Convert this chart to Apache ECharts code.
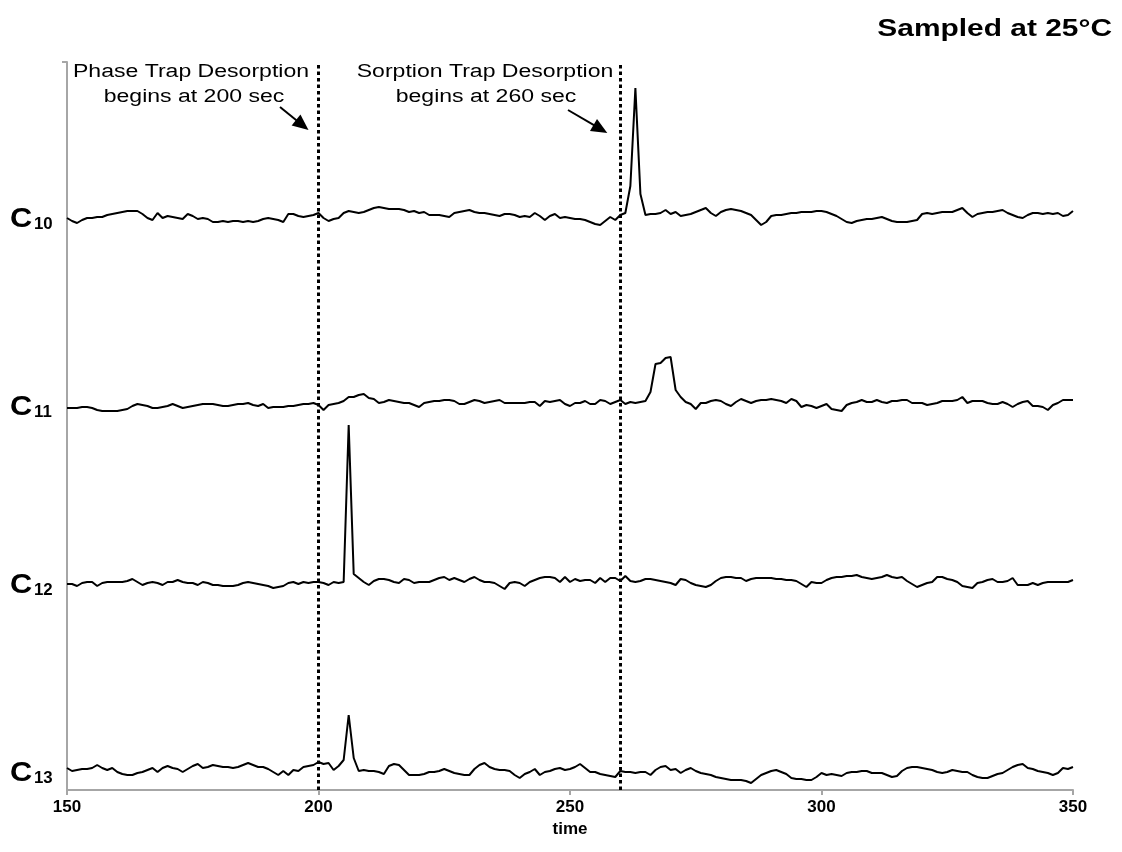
<!DOCTYPE html>
<html>
<head>
<meta charset="utf-8">
<script src="https://cdn.jsdelivr.net/npm/echarts@6/dist/echarts.min.js"></script>
<style>
html,body{margin:0;padding:0;background:#fff;}
#chart{width:1122px;height:852px;}
</style>
</head>
<body>
<div id="chart"></div>
<script>
// ---- data ----
const timeStart = 150, timeEnd = 350;           // sampling grid, 1 s steps
const xTicks = [150, 200, 250, 300, 350];
const traceNames = ['10', '11', '12', '13'];     // C10..C13
const traceOffsets = [574, 386, 208, 20];        // stacking offsets (a.u.)
const eventTimes = [200, 260];                   // desorption start times
const eventLabels = [
  ['Phase Trap Desorption', 'begins at 200 sec'],
  ['Sorption Trap Desorption', 'begins at 260 sec']
];
const titleText = 'Sampled at 25°C';
const xName = 'time';

// signal relative to each trace baseline, t = 150..350
const c10 = [
  -2,-5,-7,-4,-2,-2,-1,-1,1,2,
  3,4,5,5,5,2,-2,-4,3,-2,
  0,-1,-2,-3,2,0,-3,-2,-3,-6,
  -6,-5,-6,-5,-5,-6,-5,-6,-5,-3,
  -2,-3,-4,-6,2,2,0,-1,0,1,
  3,-2,-5,-3,-2,3,5,4,3,4,
  6,8,9,8,7,7,7,6,4,5,
  3,4,1,1,1,0,-1,3,4,5,
  6,4,3,3,2,1,0,2,2,1,
  -1,0,-1,3,0,-4,0,2,-2,-1,
  -2,-3,-3,-4,-6,-8,-9,-5,-1,-4,
  1,3,30,128,22,1,2,2,3,6,
  2,4,0,1,2,4,6,8,3,0,
  4,6,7,6,5,3,1,-4,-9,-6,
  0,1,1,2,3,3,4,4,4,5,
  5,4,2,0,-3,-6,-7,-5,-4,-3,
  -3,-2,-1,-3,-5,-6,-6,-6,-5,-4,
  2,3,2,3,4,4,4,6,8,3,
  -1,2,3,4,4,5,6,3,1,-1,
  -2,1,3,3,2,3,2,3,0,1,
  5
];
const c11 = [
  -4,-4,-4,-3,-3,-4,-6,-7,-7,-7,
  -7,-6,-5,-2,0,-1,-2,-4,-4,-3,
  -2,0,-2,-4,-3,-2,-1,0,0,0,
  -1,-2,-2,-1,0,0,1,-1,-2,0,
  -4,-3,-3,-3,-2,-2,-1,0,0,1,
  -1,-6,-1,0,1,3,7,7,9,10,
  6,5,1,2,4,3,2,1,1,-1,
  -3,1,2,3,3,4,4,3,0,0,
  2,4,3,1,2,3,4,1,1,1,
  1,1,2,2,-2,3,2,3,4,0,
  -2,1,1,3,0,0,4,3,0,2,
  4,0,2,1,2,3,12,40,41,46,
  47,14,7,2,0,-5,1,1,3,4,
  3,0,-2,2,5,3,1,3,4,4,
  5,4,3,1,5,3,-3,-1,-2,-4,
  -2,0,-5,-6,-7,-1,1,2,4,2,
  2,4,2,1,3,3,4,4,1,1,
  1,-1,0,1,3,3,3,4,7,1,
  3,3,3,1,0,0,2,0,-3,0,
  2,3,-2,-2,-3,-6,-1,1,4,4,
  4
];
const c12 = [
  -2,-2,-4,-1,0,0,-4,-1,0,0,
  0,0,1,3,0,-3,-1,0,-1,-3,
  0,0,2,0,-1,-1,-3,0,-1,-3,
  -3,-4,-4,-4,-3,-1,0,-1,-2,-3,
  -4,-6,-5,-4,-1,0,-2,0,-1,0,
  0,-1,-3,0,-1,0,157,8,4,0,
  -3,1,3,3,2,0,-1,3,2,-1,
  0,0,0,2,4,5,2,4,2,0,
  3,5,2,0,0,-1,-4,-7,-1,0,
  -1,-4,0,2,4,5,5,4,0,5,
  0,3,1,2,2,-1,4,0,4,4,
  1,6,1,0,1,3,3,2,1,0,
  -1,-3,3,2,-1,-3,-4,-5,-3,1,
  4,5,5,4,4,1,3,4,4,4,
  4,3,3,2,2,1,-2,-5,0,-1,
  -1,2,4,5,5,6,6,7,5,4,
  3,4,5,7,5,4,5,1,-2,-5,
  -3,-1,0,5,5,3,2,0,-4,-5,
  -6,-1,0,2,3,0,0,1,4,-3,
  -3,-3,-1,-3,-1,0,0,0,0,0,
  2
];
const c13 = [
  2,-1,0,1,1,2,5,2,0,2,
  -2,-4,-5,-5,-3,-2,0,2,-2,2,
  4,2,1,-2,1,4,6,2,3,5,
  4,3,3,2,3,5,7,5,3,3,
  1,-2,-5,-1,-5,0,-1,3,4,5,
  8,6,7,0,4,10,55,12,-1,0,
  -1,-1,-2,-4,4,6,5,0,-5,-5,
  -5,-4,-2,-2,-1,1,-1,-3,-4,-5,
  -5,1,5,7,3,1,0,0,-1,-5,
  -8,-4,-2,1,-5,-2,-1,1,2,0,
  1,3,6,2,-2,-2,-4,-5,-6,-7,
  -1,-2,-2,-3,-2,-2,-5,0,3,4,
  0,1,-3,0,2,-1,-3,-4,-5,-7,
  -8,-9,-10,-10,-10,-11,-13,-9,-5,-3,
  -1,0,-2,-4,-8,-9,-9,-10,-10,-7,
  -3,-5,-4,-5,-6,-3,-2,-2,-1,-1,
  -3,-3,-3,-5,-7,-6,-1,2,3,3,
  2,1,0,-2,-3,-2,0,-1,-2,-2,
  -5,-7,-8,-8,-6,-4,-3,0,3,5,
  6,2,1,-1,-2,-3,-5,-3,2,1,
  3
];
const traces = [c10, c11, c12, c13];

// ---- chart ----
const FONT = '"Liberation Sans", Arial, Helvetica, sans-serif';
const AXIS_GRAY = '#a6a6a6';
const chart = echarts.init(document.getElementById('chart'));

const series = traces.map((vals, i) => ({
  type: 'line',
  name: 'C' + traceNames[i],
  data: vals.map((v, k) => [timeStart + k, traceOffsets[i] + v]),
  showSymbol: false,
  symbol: 'none',
  lineStyle: { color: '#000', width: 2 },
  z: 3,
  silent: true,
  markLine: i === 0 ? {
    silent: true,
    symbol: ['none', 'none'],
    label: { show: false },
    lineStyle: { color: '#000', width: 3, type: [3.5, 3], opacity: 1 },
    data: eventTimes.map(t => ({ xAxis: t }))
  } : undefined
}));

chart.setOption({
  animation: false,
  backgroundColor: '#fff',
  grid: { left: 67, right: 49, top: 62, bottom: 62, containLabel: false },
  xAxis: {
    type: 'value',
    min: timeStart, max: timeEnd, interval: 50,
    name: xName, nameLocation: 'middle', nameGap: 27,
    nameTextStyle: { fontFamily: FONT, fontWeight: 'bold', fontSize: 17, color: '#000' },
    axisLine: { show: true, lineStyle: { color: AXIS_GRAY, width: 2 } },
    axisTick: { show: true, length: 5, lineStyle: { color: AXIS_GRAY, width: 2 } },
    axisLabel: {
      fontFamily: FONT, fontWeight: 'bold', fontSize: 17, color: '#000', margin: 9,
      formatter: v => xTicks.includes(v) ? String(v) : ''
    },
    splitLine: { show: false }
  },
  yAxis: {
    type: 'value', min: 0, max: 728, interval: 728,
    axisLine: { show: true, lineStyle: { color: AXIS_GRAY, width: 2 } },
    axisTick: { show: true, length: 5, customValues: [728], lineStyle: { color: AXIS_GRAY, width: 2 } },
    axisLabel: { show: false },
    splitLine: { show: false }
  },
  series: series
});

// ---- annotations ----
const graphics = [];
const SX = 1.28;
// title
graphics.push({
  type: 'text', x: 1112, y: 30, scaleX: 1.3,
  style: { text: titleText, fontFamily: FONT, fontWeight: 'bold', fontSize: 23, fill: '#000', align: 'right', verticalAlign: 'middle' }
});
// trace labels
traceOffsets.forEach((off, i) => {
  const py = chart.convertToPixel({ yAxisIndex: 0 }, off);
  graphics.push({
    type: 'text', x: 10, y: py + 3, scaleX: 1.1,
    style: { text: 'C', fontFamily: FONT, fontWeight: 'bold', fontSize: 28, fill: '#000', align: 'left', verticalAlign: 'middle' }
  });
  graphics.push({
    type: 'text', x: 34, y: py + 9, scaleX: 1.05,
    style: { text: traceNames[i], fontFamily: FONT, fontWeight: 'bold', fontSize: 16, fill: '#000', align: 'left', verticalAlign: 'middle' }
  });
});
// event text and arrows
const textCenters = [[191, 194], [485, 486]];
eventLabels.forEach((lines, i) => {
  lines.forEach((ln, j) => {
    graphics.push({
      type: 'text', x: textCenters[i][j], y: 72 + j * 25, scaleX: SX,
      style: { text: ln, fontFamily: FONT, fontSize: 18, fill: '#000', align: 'center', verticalAlign: 'middle' }
    });
  });
});
function arrow(x1, y1, x2, y2) {
  const dx = x2 - x1, dy = y2 - y1, L = Math.hypot(dx, dy);
  const ux = dx / L, uy = dy / L, px = -uy, py = ux;
  const hl = 16, hw = 7;
  const bx = x2 - ux * hl, by = y2 - uy * hl;
  graphics.push({ type: 'line', shape: { x1, y1, x2: bx + ux * 2, y2: by + uy * 2 }, style: { stroke: '#000', lineWidth: 2 } });
  graphics.push({ type: 'polygon', shape: { points: [[x2, y2], [bx + px * hw, by + py * hw], [bx - px * hw, by - py * hw]] }, style: { fill: '#000' } });
}
eventTimes.forEach((t, i) => {
  const lx = chart.convertToPixel({ xAxisIndex: 0 }, t);
  if (i === 0) arrow(280, 107, lx - 10, 130);
  else arrow(568, 110, lx - 13, 133);
});
chart.setOption({ graphic: graphics });
</script>
</body>
</html>
